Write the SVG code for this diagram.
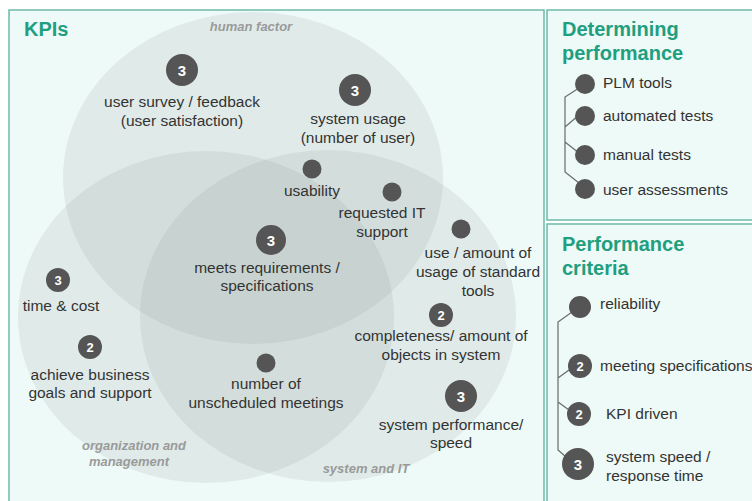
<svg xmlns="http://www.w3.org/2000/svg" width="752" height="501" viewBox="0 0 752 501">
<defs>
<style>
.panel{fill:#eefaf7;stroke:#6dbaa9;stroke-width:1.5}
.venn{fill:#7a8080;fill-opacity:0.12}
.cat{font-family:"Liberation Sans",Arial,sans-serif;font-size:13px;font-weight:bold;font-style:italic;fill:#9a9a9a;text-anchor:middle}
.title{font-family:"Liberation Sans",Arial,sans-serif;font-weight:bold;fill:#1f9f7f;font-size:20px}
.lbl{font-family:"Liberation Sans",Arial,sans-serif;font-size:15.5px;fill:#333}
.c{text-anchor:middle}
.badge{fill:#555555}
.num{font-family:"Liberation Sans",Arial,sans-serif;font-weight:bold;fill:#ffffff;text-anchor:middle}
.br{fill:none;stroke:#6a6a6a;stroke-width:1.2}
</style>
</defs>
<rect width="752" height="501" fill="#ffffff"/>
<g id="panel-kpis">
<rect class="panel" x="9" y="10" width="535" height="500"/>
<text class="title" x="24" y="36">KPIs</text>
</g>
<g id="venn">
<ellipse class="venn" cx="253" cy="178" rx="190" ry="166"/>
<ellipse class="venn" cx="206" cy="317" rx="188" ry="166"/>
<ellipse class="venn" cx="328" cy="316" rx="188" ry="166"/>
<text class="cat" x="251" y="31">human factor</text>
<text class="cat" x="134" y="450">organization and</text>
<text class="cat" x="129" y="466">management</text>
<text class="cat" x="366" y="473">system and IT</text>
</g>
<g id="kpi-user-survey">
<circle class="badge" cx="182" cy="70" r="16"/><text class="num" x="182" y="76" font-size="15">3</text>
<text class="lbl c" x="182" y="107">user survey / feedback</text>
<text class="lbl c" x="182" y="126">(user satisfaction)</text>
</g>
<g id="kpi-system-usage">
<circle class="badge" cx="355" cy="90" r="16"/><text class="num" x="355" y="96" font-size="15">3</text>
<text class="lbl c" x="358" y="124">system usage</text>
<text class="lbl c" x="358" y="143">(number of user)</text>
</g>
<g id="kpi-usability">
<circle class="badge" cx="312" cy="169" r="9.5"/>
<text class="lbl c" x="312" y="196">usability</text>
</g>
<g id="kpi-requested-it">
<circle class="badge" cx="392" cy="192" r="9.5"/>
<text class="lbl c" x="382" y="218">requested IT</text>
<text class="lbl c" x="382" y="237">support</text>
</g>
<g id="kpi-standard-tools">
<circle class="badge" cx="461" cy="229" r="9.5"/>
<text class="lbl c" x="478" y="258">use / amount of</text>
<text class="lbl c" x="478" y="277">usage of standard</text>
<text class="lbl c" x="478" y="296">tools</text>
</g>
<g id="kpi-meets-requirements">
<circle class="badge" cx="271" cy="240" r="15"/><text class="num" x="271" y="246" font-size="15">3</text>
<text class="lbl c" x="267" y="273">meets requirements /</text>
<text class="lbl c" x="267" y="291">specifications</text>
</g>
<g id="kpi-time-cost">
<circle class="badge" cx="58" cy="280" r="12"/><text class="num" x="58" y="285" font-size="13">3</text>
<text class="lbl c" x="61" y="311">time &amp; cost</text>
</g>
<g id="kpi-business-goals">
<circle class="badge" cx="90" cy="347" r="12"/><text class="num" x="90" y="352" font-size="13">2</text>
<text class="lbl c" x="90" y="380">achieve business</text>
<text class="lbl c" x="90" y="398">goals and support</text>
</g>
<g id="kpi-meetings">
<circle class="badge" cx="266" cy="363" r="9.5"/>
<text class="lbl c" x="266" y="389">number of</text>
<text class="lbl c" x="266" y="408">unscheduled meetings</text>
</g>
<g id="kpi-completeness">
<circle class="badge" cx="441" cy="315" r="12"/><text class="num" x="441" y="320" font-size="13">2</text>
<text class="lbl c" x="441" y="341">completeness/ amount of</text>
<text class="lbl c" x="441" y="360">objects in system</text>
</g>
<g id="kpi-system-performance">
<circle class="badge" cx="461" cy="396" r="16"/><text class="num" x="461" y="402" font-size="15">3</text>
<text class="lbl c" x="451" y="430">system performance/</text>
<text class="lbl c" x="451" y="448">speed</text>
</g>
<g id="panel-determining">
<rect class="panel" x="547" y="10" width="215" height="210"/>
<text class="title" x="562" y="36">Determining</text>
<text class="title" x="562" y="60">performance</text>
</g>
<g id="panel-criteria">
<rect class="panel" x="547" y="224" width="215" height="290"/>
<text class="title" x="562" y="251">Performance</text>
<text class="title" x="562" y="275">criteria</text>
</g>
<g id="connectors">
<path class="br" d="M579,88 L565,97 L565,172 L579,183 M565,127 L579,115 M565,142 L579,153"/>
<path class="br" d="M572,312 L558,322 L558,450 L566,457 M558,378 L569,370 M558,402 L569,410"/>
</g>
<g id="det-plm">
<circle class="badge" cx="585" cy="84" r="10"/>
<text class="lbl" x="603" y="88">PLM tools</text>
</g>
<g id="det-automated">
<circle class="badge" cx="585" cy="116" r="10"/>
<text class="lbl" x="603" y="121">automated tests</text>
</g>
<g id="det-manual">
<circle class="badge" cx="585" cy="155" r="10"/>
<text class="lbl" x="603" y="160">manual tests</text>
</g>
<g id="det-user">
<circle class="badge" cx="585" cy="189" r="10"/>
<text class="lbl" x="603" y="195">user assessments</text>
</g>
<g id="crit-reliability">
<circle class="badge" cx="580" cy="307" r="11"/>
<text class="lbl" x="600" y="309">reliability</text>
</g>
<g id="crit-specs">
<circle class="badge" cx="580" cy="366" r="12"/><text class="num" x="580" y="371" font-size="13">2</text>
<text class="lbl" x="600" y="371">meeting specifications</text>
</g>
<g id="crit-kpi">
<circle class="badge" cx="579" cy="414" r="12"/><text class="num" x="579" y="419" font-size="13">2</text>
<text class="lbl" x="606" y="419">KPI driven</text>
</g>
<g id="crit-speed">
<circle class="badge" cx="578" cy="464" r="16"/><text class="num" x="578" y="470" font-size="15">3</text>
<text class="lbl" x="606" y="462">system speed /</text>
<text class="lbl" x="606" y="481">response time</text>
</g>
</svg>
